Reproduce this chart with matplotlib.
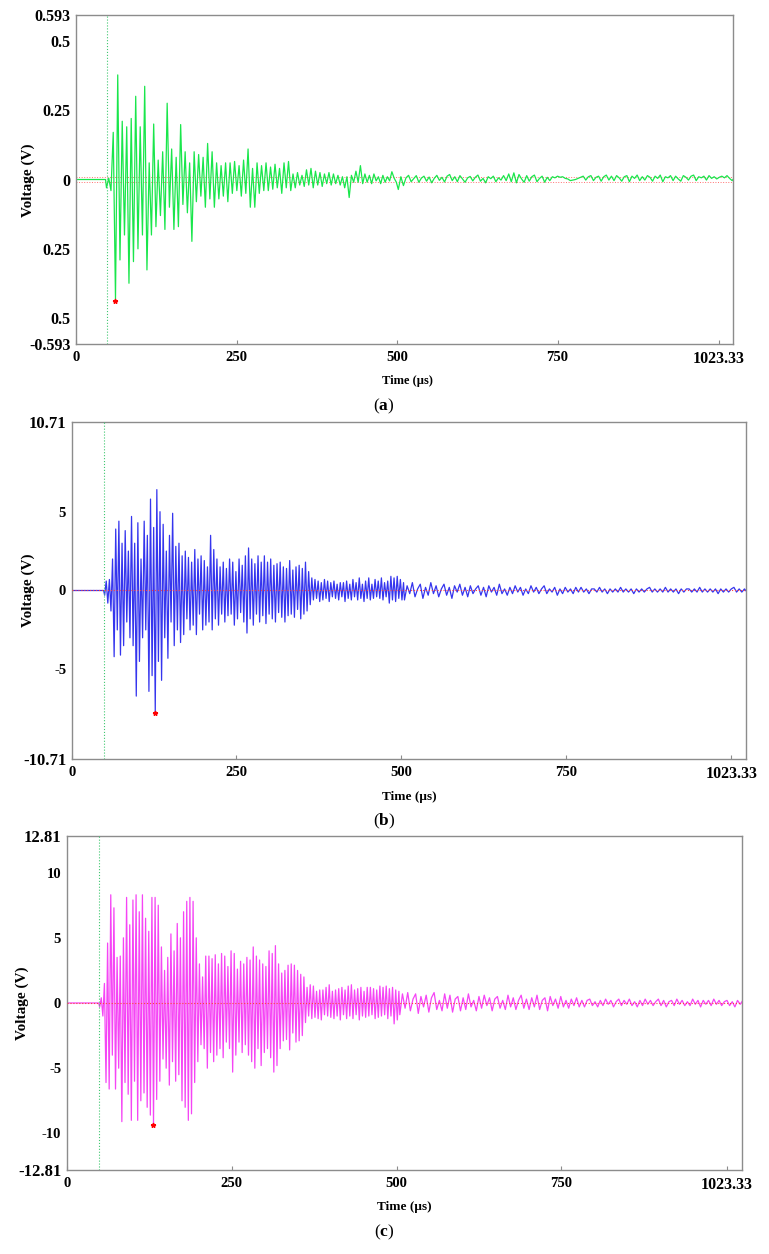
import numpy as np
import matplotlib
matplotlib.use("Agg")
import matplotlib.pyplot as plt

plt.rcParams['font.family'] = ['Liberation Serif', 'DejaVu Serif']
plt.rcParams['mathtext.fontset'] = 'custom'
plt.rcParams['mathtext.rm'] = 'Liberation Serif'
plt.rcParams['mathtext.bf'] = 'Liberation Serif:bold'

# ---- waveform (a): extrema, in mV ----
a_t0, a_dt = 47.5, 3.5
a_dense_mv = [
    -30, 5, -40, 170, -430, 377, -290, 210, -200, 190,
    -374, 220, -296, 300, -250, 190, -200, 336, -326, 60,
    -200, 200, -170, 70, -130, 100, -180, 275, -100, 110,
    -180, 80, -170, 198, -90, 100, -120, 60, -223, 100,
    -80, 90, -60, 80, -100, 130, -70, 100, -100, 60,
    -70, 50, -60, 60, -80, 60, -50, 65, -40, 50,
    -60, 70, -50, 110, -100, 40, -100, 60, -50, 50,
    -40, 60, -40, 45, -35, 55, -30, 40, -50, 60,
    -30, 65, -40, 20, -30, 25, -20, 15, -25, 35,
    -20, 40, -30, 30, -20, 25, -25, 20, -15, 25,
    -20, 20, -15, 15, -20, 10, -30, 10, -65, 15,
    -10, 30, -10, 50, -15, 20, -10, 15, -15, 20,
    -5, 10, -15, 15, -10, 10, -5, 28, 5, -10,
]
a_tail_t0, a_tail_dt = 502, 4
a_tail_mv = [
    -36, 10, -22, 6, 15, -8, 3, 14, -10, 5,
    12, -6, 9, -12, 4, 15, -3, 8, -9, 12,
    18, -4, 10, -8, 14, 2, -10, 6, 11, -5,
    8, 16, -6, 4, -12, 10, 3, 12, -8, 6,
    -2, 14, -4, 20, -8, 24, -12, 18, 2, -10,
    14, -6, 10, 16, -8, 4, 12, -10, 8, -4,
    10, 6, 12, 8, 10, 4, 2, -4, -2, 0,
    4, 8, 12, -2, 10, 14, -4, 8, 12, -6,
    10, 16, -2, 12, -4, 14, 6, -6, 10, 14,
    -8, 12, 4, 16, -4, 10, -2, 14, 8, -6,
    12, 4, 16, -8, 10, 6, 14, -4, 12, 2,
    -6, 14, 8, -2, 12, 16, -4, 10, 6, 12,
    -2, 14, 4, 10, 2, 8, 12, 6, 14, 4,
    -4, 8,
]

# ---- waveform (b): extrema in units of 0.1 V ----
b_t0, b_dt = 50, 2.4
b_dense_dv = [
    -3, 6, -8, 7, -13, 20, -42, 39, -25, 44,
    -41, 30, -35, 38, -20, 25, -30, 47, -35, 30,
    -67, 43, -45, 20, -30, 44, -25, 35, -64, 58,
    -54, 40, -77, 64, -45, 50, -57, 42, -30, 25,
    -43, 35, -20, 49, -35, 28, -25, 30, -33, 22,
    -28, 25, -18, 21, -25, 18, -22, 26, -28, 20,
    -15, 22, -25, 19, -22, 15, -20, 35, -25, 26,
    -18, 20, -22, 15, -15, 18, -20, 14, -16, 20,
    -15, 18, -22, 12, -18, 20, -14, 16, -20, 22,
    -27, 27, -18, 20, -22, 17, -15, 22, -20, 18,
    -16, 22, -21, 18, -15, 20, -18, 16, -20, 17,
    -14, 18, -17, 15, -20, 14, -16, 19, -15, 13,
    -17, 15, -12, 16, -18, 14, -15, 18, -13, 12,
    -9, 8, -6, 7, -5, 6, -7, 5, -6, 7,
    -5, 6, -7, 5, -4, 6, -5, 4, -6, 5,
    -4, 5, -7, 6, -5, 4, -6, 7, -4, 5,
    -6, 8, -5, 4, -7, 6, -5, 8, -6, 4,
    -5, 7, -4, 6, -5, 8, -6, 5, -4, 6,
    -8, 9, -6, 8, -7, 9, -5, 7, -6, 5,
]
b_tail_t0, b_tail_dt = 505, 4
b_tail_dv = [
    -6, 3, -2, 5, -4, 1, 4, -5, 2, -3,
    5, -2, 3, -4, 1, 4, -3, 2, -5, 3,
    -1, 4, -3, 2, -4, 3, -2, 1, 3, -3,
    2, -4, 3, -1, 2, -3, 4, -2, 1, -3,
    2, -2, 3, -1, 2, -3, 1, -2, 3, -1,
    2, -2, 1, 3, -2, 1, -1, 2, -3, 1,
    -2, 2, -1, 1, -2, 2, -1, 2, -1, 1,
    -2, 1, 1, -1, 2, -1, 1, -2, 1, -1,
    1, -1, 2, -1, 1, -1, 1, -2, 1, -1,
    1, -1, 1, 2, -1, 1, -1, 1, -1, 2,
    -1, 1, -1, 1, -2, 1, -1, 1, 1, -1,
    1, -1, 2, -1, 1, -1, 1, -1, 1, -2,
    1, -1, 1, -1, 1, 2, -1, 1, -1, 1,
    -1, 1,
]

# ---- waveform (c): extrema in units of 0.1 V ----
c_t0, c_dt = 50, 2.4
c_dense_dv = [
    -3, 4, -10, 15, -61, 46, -66, 83, -40, 73,
    -66, 35, -50, 36, -91, 50, -61, 81, -70, 60,
    -90, 79, -60, 83, -90, 70, -75, 83, -69, 65,
    -80, 55, -86, 81, -93, 81, -74, 75, -60, 43,
    -43, 25, -50, 35, -63, 53, -45, 40, -60, 61,
    -55, 50, -75, 70, -80, 78, -90, 81, -85, 78,
    -61, 50, -45, 30, -32, 20, -35, 36, -50, 36,
    -38, 34, -45, 37, -40, 30, -35, 38, -42, 36,
    -30, 28, -35, 40, -53, 38, -40, 26, -30, 32,
    -38, 30, -32, 35, -40, 33, -45, 43, -50, 36,
    -35, 33, -48, 30, -38, 28, -35, 40, -42, 38,
    -53, 44, -48, 30, -35, 23, -29, 25, -28, 29,
    -36, 30, -23, 29, -30, 25, -29, 22, -25, 20,
    -15, 12, -10, 14, -12, 13, -11, 9, -12, 10,
    -13, 10, -9, 12, -10, 14, -11, 9, -12, 10,
    -10, 11, -13, 12, -9, 10, -12, 13, -10, 14,
    -12, 10, -9, 11, -13, 12, -10, 9, -11, 12,
    -10, 12, -9, 11, -12, 10, -11, 13, -10, 12,
    -9, 13, -12, 11, -10, 12, -16, 10, -13, 9,
]
c_tail_t0, c_tail_dt = 505, 4
c_tail_dv = [
    -9, 7, -4, 8, -6, 3, 7, -8, 5, -3,
    6, -7, 4, 8, -5, 2, -6, 7, -4, 6,
    -7, 3, 5, -6, 4, -5, 7, -3, 2, -6,
    5, -4, 6, -2, 4, -6, 3, 5, -4, 2,
    -5, 6, -3, 4, -5, 2, 6, -4, 3, -5,
    4, -3, 6, -5, 2, 4, -6, 5, -2, 3,
    -4, 5, -3, 2, -4, 3, -2, 4, -3, 2,
    -3, 2, 3, -2, 1, -3, 2, -2, 3, -1,
    2, -3, 1, 3, -2, 2, -1, 3, -2, 1,
    -3, 2, -2, 3, -1, 2, -2, 1, 3, -2,
    2, -3, 1, 2, -2, 3, -1, 2, -2, 1,
    -2, 3, -1, 2, -3, 2, -1, 2, -2, 3,
    -1, 2, -2, 1, 2, -2, 1, -3, 2, -1,
    2, -1,
]

# trigger time, peak markers, threshold levels
trigger_us = 49
peak_a = (60, -0.437)
peak_b = (126, -7.75)
peak_c = (131, -9.34)
thr_a = [0.01, -0.01]

# axis limits / tick labels
t_max = 1023.33
x_ticks = [0, 250, 500, 750, 1001]
x_labels = ['0', '250', '500', '750', '1023.33']
a_lim = 0.593
a_yticks = [0.593, 0.5, 0.25, 0, -0.25, -0.5, -0.593]
a_ylabels = ['0.593', '0.5', '0.25', '0', '0.25', '0.5', '-0.593']
b_lim = 10.71
b_yticks = [10.71, 5, 0, -5, -10.71]
b_ylabels = ['10.71', '5', '0', '-5', '-10.71']
c_lim = 12.81
c_yticks = [12.81, 10, 5, 0, -5, -10, -12.81]
c_ylabels = ['12.81', '10', '5', '0', '-5', '-10', '-12.81']


def build(t0, dt, dense, tail_t0, tail_dt, tail, scale):
    t = np.concatenate([[0, t0 - 1.5],
                        t0 + dt * np.arange(len(dense)),
                        tail_t0 + tail_dt * np.arange(len(tail))])
    v = np.concatenate([[0, 0], np.array(dense) * scale, np.array(tail) * scale])
    return t, v


def style_axes(ax, lim, yticks, ylabels, big_y):
    ax.set_xlim(0, t_max)
    ax.set_ylim(-lim, lim)
    for s in ax.spines.values():
        s.set_color('#8c8c8c')
        s.set_linewidth(1.0)
    ax.set_xticks(x_ticks)
    ax.set_xticklabels(x_labels, fontweight='bold', fontsize=10.5)
    ax.xaxis.get_ticklabels()[-1].set_fontsize(11.5)
    ax.set_yticks(yticks)
    ax.set_yticklabels(ylabels, fontweight='bold', fontsize=10.5)
    for lab in ax.yaxis.get_ticklabels():
        if lab.get_text().lstrip('-') in big_y:
            lab.set_fontsize(12)
    ax.tick_params(axis='x', direction='in', length=3, color='#8c8c8c', pad=5)
    ax.tick_params(axis='y', direction='in', length=0, pad=4)


fig = plt.figure(figsize=(7.69, 12.54), dpi=100)
W, H = 769, 1254


def add_axes(l, t, r, b):
    return fig.add_axes([l / W, 1 - b / H, (r - l) / W, (b - t) / H])


def fig_text(x, y, s, **kw):
    fig.text(x / W, 1 - y / H, s, ha='center', va='center', **kw)


# (a)
ax = add_axes(76, 15, 733, 344)
t, v = build(a_t0, a_dt, a_dense_mv, a_tail_t0, a_tail_dt, a_tail_mv, 1e-3)
for y in thr_a:
    ax.axhline(y, color='#ff7070', lw=0.7, ls=':', zorder=1)
ax.plot(t, v, color='#19e64b', lw=0.9, zorder=2)
ax.axvline(trigger_us, color='#40c870', lw=0.8, ls=':', zorder=3)
ax.plot(*peak_a, marker='*', color='red', ms=3.5, zorder=4)
style_axes(ax, a_lim, a_yticks, a_ylabels, ['0.593'])
for lab in ax.yaxis.get_ticklabels():
    lab.set_fontsize(11.5)
fig_text(28, 180, 'Voltage (V)', rotation=90, fontweight='bold', fontsize=11)
fig_text(407, 381, 'Time (µs)', fontweight='bold', fontsize=9)
fig_text(384, 406, r'($\mathbf{a}$)', fontsize=12.5)

# (b)
ax = add_axes(71.7, 421.7, 746, 759.3)
t, v = build(b_t0, b_dt, b_dense_dv, b_tail_t0, b_tail_dt, b_tail_dv, 0.1)
ax.plot(t, v, color='#3535ee', lw=0.9, zorder=2)
ax.axhline(0, color='#ff4040', lw=0.8, ls=':', zorder=3)
ax.axvline(trigger_us, color='#40c870', lw=0.8, ls=':', zorder=3)
ax.plot(*peak_b, marker='*', color='red', ms=3.5, zorder=4)
style_axes(ax, b_lim, b_yticks, b_ylabels, ['10.71'])
fig_text(28, 590.5, 'Voltage (V)', rotation=90, fontweight='bold', fontsize=11)
fig_text(409, 797, 'Time (µs)', fontweight='bold', fontsize=9.5)
fig_text(384, 821, r'($\mathbf{b}$)', fontsize=12.5)

# (c)
ax = add_axes(66.7, 836, 741.7, 1170)
t, v = build(c_t0, c_dt, c_dense_dv, c_tail_t0, c_tail_dt, c_tail_dv, 0.1)
ax.plot(t, v, color='#f545f5', lw=0.9, zorder=2)
ax.axhline(0, color='#ff4040', lw=0.8, ls=':', zorder=3)
ax.axvline(trigger_us, color='#40c870', lw=0.8, ls=':', zorder=3)
ax.plot(*peak_c, marker='*', color='red', ms=3.5, zorder=4)
style_axes(ax, c_lim, c_yticks, c_ylabels, ['12.81'])
fig_text(22, 1003, 'Voltage (V)', rotation=90, fontweight='bold', fontsize=11)
fig_text(404, 1207, 'Time (µs)', fontweight='bold', fontsize=9.5)
fig_text(384, 1232, r'($\mathbf{c}$)', fontsize=12.5)

fig.savefig('out.png', dpi=100, facecolor='white')
